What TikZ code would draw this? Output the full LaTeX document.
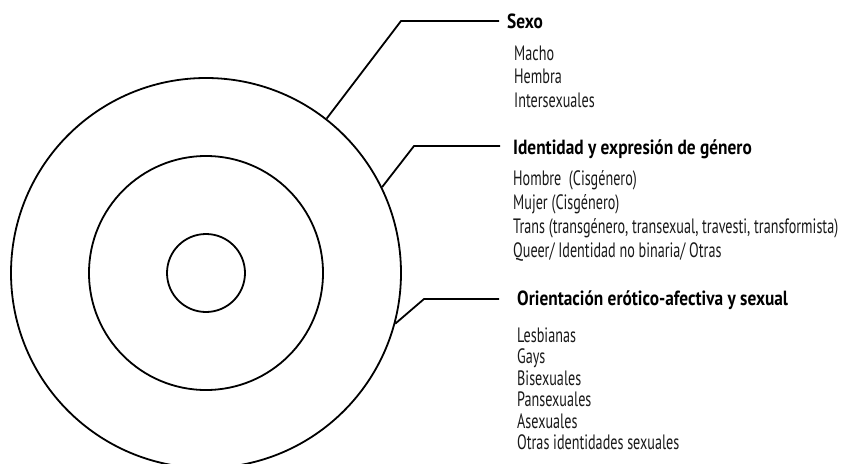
\documentclass[tikz,border=0pt]{standalone}
\usepackage{fontspec}
\setmainfont{PT Sans}
\newfontfamily\headfont{PT Sans}[FakeStretch=0.845]
\newfontfamily\itemfont{PT Sans}[FakeStretch=0.68]
\begin{document}
\begin{tikzpicture}[x=1pt,y=-1pt,
  ring/.style={circle,draw,line width=1.8pt,inner sep=0pt},
  conn/.style={line width=1.8pt,line join=miter},
  head/.style={anchor=base west,inner sep=0pt,font=\headfont\fontsize{20.5}{24}\selectfont\bfseries},
  item/.style={anchor=base west,inner sep=0pt,text=black!90,font=\itemfont\fontsize{20.8}{24}\selectfont}]
\useasboundingbox (0,0) rectangle (842,463);
\node[ring,minimum size=390pt] (outer) at (206,273) {};
\node[ring,minimum size=234pt] (middle) at (206,273) {};
\node[ring,minimum size=78pt] (inner) at (206,273) {};
% corners and ends
\coordinate (c1) at (401,21);
\coordinate (e1) at (499,21);
\coordinate (c2) at (414,146);
\coordinate (e2) at (500,146);
\coordinate (c3) at (424,299);
\coordinate (e3) at (499,299);
\draw[conn] (outer.52.5) -- (c1) -- (e1);
\draw[conn] (outer.26.7) -- (c2) -- (e2);
\draw[conn] (outer.-15) -- (c3) -- (e3);
% Sexo
\node[head] (h1) at (507,28) {Sexo};
\node[item] (s1) at (514,60) {Macho};
\node[item] (s2) at (514,83.5) {Hembra};
\node[item] (s3) at (514,107) {Intersexuales};
% Identidad
\node[head] (h2) at (513,154) {Identidad y expresión de género};
\node[item] (i1) at (513,185) {Hombre\ \ (Cisgénero)};
\node[item] (i2) at (513,209) {Mujer (Cisgénero)};
\node[item] (i3) at (513,233) {Trans (transgénero, transexual, travesti, transformista)};
\node[item] (i4) at (513,257) {Queer/ Identidad no binaria/ Otras};
% Orientacion
\node[head] (h3) at (517,305) {Orientación erótico-afectiva y sexual};
\node[item] (o1) at (517,342) {Lesbianas};
\node[item] (o2) at (517,363.5) {Gays};
\node[item] (o3) at (517,385) {Bisexuales};
\node[item] (o4) at (517,406.5) {Pansexuales};
\node[item] (o5) at (517,428) {Asexuales};
\node[item] (o6) at (517,449.5) {Otras identidades sexuales};
\end{tikzpicture}
\end{document}
